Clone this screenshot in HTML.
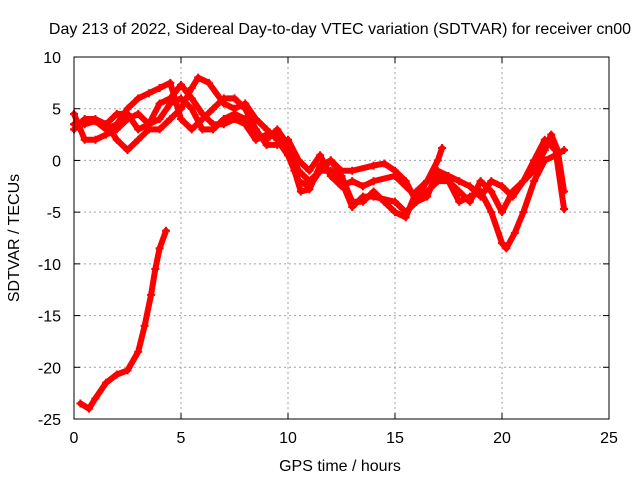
<!DOCTYPE html>
<html><head><meta charset="utf-8"><style>
body{margin:0;background:#fff}
svg text{font-family:"Liberation Sans",sans-serif;font-size:16px;fill:#000}
</style></head><body>
<svg id="chart" width="640" height="480">
<rect width="640" height="480" fill="#fff"/>
<g id="grid"></g><g id="series"></g><g id="axes"></g>
<text x="340" y="34" text-anchor="middle">Day 213 of 2022, Sidereal Day-to-day VTEC variation (SDTVAR) for receiver cn00</text>
<text x="340" y="471" text-anchor="middle">GPS time / hours</text>
<text transform="translate(19,238) rotate(-90)" text-anchor="middle">SDTVAR / TECUs</text>
</svg>
<script>
const xTicks=[0,5,10,15,20,25];
const yTicks=[10,5,0,-5,-10,-15,-20,-25];
const trackA=[[0.3,-23.5],[0.7,-24],[1,-23],[1.5,-21.5],[2,-20.7],[2.5,-20.3],[3,-18.5],[3.3,-16],[3.6,-13],[3.8,-10.5],[4,-8.5],[4.3,-6.8]];
const track1=[[0,4.5],[0.5,2],[1,2],[1.5,2.5],[2,3],[2.5,4],[3,4.5],[3.5,3.5],[4,5.5],[4.5,6],[5,7.3],[5.5,6],[6,4.5],[6.5,3.5],[7,3.5],[7.5,4],[8,3.5],[8.5,2],[9,2.5],[9.5,2.5],[10,1],[10.5,-2],[11,-2.5],[11.5,-1],[12,0],[12.5,-1.5],[13,-4],[13.5,-4],[14,-3],[14.5,-4],[15,-5],[15.5,-5.5],[16,-3],[16.5,-2],[17,0],[17.2,1.2]];
const track2=[[0,3],[0.5,4],[1,4],[1.5,3.5],[2,2],[2.5,1],[3,2],[3.5,3],[4,3],[4.5,4],[5,5],[5.5,7],[5.8,8],[6.3,7.5],[7,5.5],[7.5,5],[8,5.5],[8.5,4],[9,3],[9.5,2],[10,0.5],[10.3,-1],[10.6,-3],[11,-2.8],[11.5,-0.5],[12,0],[12.5,-1],[13,-1],[14,-0.5],[14.5,-0.3],[15,-1],[15.5,-2],[16,-4],[16.5,-3],[17,-2],[17.5,-2],[18,-3],[18.5,-4],[19,-2],[19.5,-3],[20,-5],[20.5,-3],[21,-2],[21.5,-1],[22,1],[22.3,2.5],[22.6,1],[22.9,-3]];
const track3=[[0,3.5],[0.5,3.5],[1,3.8],[1.5,3],[2,3.5],[2.5,5],[3,6],[3.5,6.5],[4,7],[4.5,7.5],[5,4],[5.5,3],[6,4],[6.5,5],[7,6],[7.5,6],[8,5],[8.5,3],[9,1.5],[9.5,1.5],[10,2],[10.5,0],[11,-1],[11.5,0.5],[12,-1.5],[12.5,-2.5],[13,-2],[13.5,-2.5],[14,-2],[15,-1.5],[15.5,-2.5],[16,-3.5],[16.5,-2],[17,-1.5],[17.5,-2],[18,-4],[18.5,-3.5],[19,-3],[19.5,-5],[20,-8],[20.2,-8.5],[20.6,-7],[21,-5],[21.5,-2],[22,0],[22.5,0.5],[22.9,1]];
const track4=[[1.5,3.5],[2,4.5],[2.5,4.5],[3,3],[3.5,3.5],[4,4],[4.5,5.5],[5,6],[5.5,5],[6,3],[6.5,3],[7,4],[7.5,4.5],[8,4],[8.5,2.5],[9,2],[9.5,3],[10,1.5],[10.5,-1],[11,-2],[11.5,-1],[12,-1],[12.5,-2],[13,-4.5],[13.5,-3.5],[14,-3.5],[15,-4],[15.5,-5],[16,-4],[16.5,-3.5],[17,-1],[17.5,-1.5],[18,-2],[18.5,-2.5],[19,-3.5],[19.5,-2],[20,-2.5],[20.5,-3.5],[21,-2],[21.5,0],[22,2],[22.5,1],[22.9,-4.7]];
const tracks=[trackA,track1,track2,track3,track4];
const X0=74,X1=609,Y0=57,Y1=419;
const xs=v=>X0+(v-0)/(25-0)*(X1-X0);
const ys=v=>Y1-(v+25)/(35)*(Y1-Y0);
const NS="http://www.w3.org/2000/svg";
function mk(t,a,p){const e=document.createElementNS(NS,t);for(const k in a)e.setAttribute(k,a[k]);p.appendChild(e);return e;}
const grid=document.getElementById('grid'),axes=document.getElementById('axes'),ser=document.getElementById('series');
xTicks.forEach(t=>{const x=xs(t);
 if(t>0&&t<25){const g=mk('line',{x1:x,x2:x,y1:Y0,y2:Y1,stroke:'#a0a0a0','stroke-dasharray':'2,3'},grid);
 
 }
 mk('line',{x1:x,x2:x,y1:Y1,y2:Y1-6,stroke:'#000'},axes);mk('line',{x1:x,x2:x,y1:Y0,y2:Y0+6,stroke:'#000'},axes);
 const l=mk('text',{x:x,y:Y1+24,'text-anchor':'middle'},axes);l.textContent=t;
 
 });
yTicks.forEach(t=>{const y=ys(t);
 if(t>-25&&t<10){const g=mk('line',{x1:X0,x2:X1,y1:y,y2:y,stroke:'#a0a0a0','stroke-dasharray':'2,3'},grid);
 
 }
 mk('line',{x1:X0,x2:X0+6,y1:y,y2:y,stroke:'#000'},axes);mk('line',{x1:X1,x2:X1-6,y1:y,y2:y,stroke:'#000'},axes);
 const l=mk('text',{x:X0-13,y:y+6,'text-anchor':'end'},axes);l.textContent=t;
 
 });
const fr=mk('rect',{x:X0,y:Y0,width:X1-X0,height:Y1-Y0,fill:'none',stroke:'#000'},axes);


tracks.forEach((tr,i)=>{
 const pl=mk('polyline',{points:tr.map(p=>xs(p[0])+','+ys(p[1])).join(' '),fill:'none',stroke:'#f00','stroke-width':6,'stroke-linejoin':'round','stroke-linecap':'round'},ser);
 
 
 tr.forEach(p=>{const x=xs(p[0]),y=ys(p[1]);
  const m=mk('path',{d:`M${x-4},${y}H${x+4}M${x},${y-4}V${y+4}`,stroke:'#f00','stroke-width':2},ser);
  
  });
});
</script>
</body></html>
